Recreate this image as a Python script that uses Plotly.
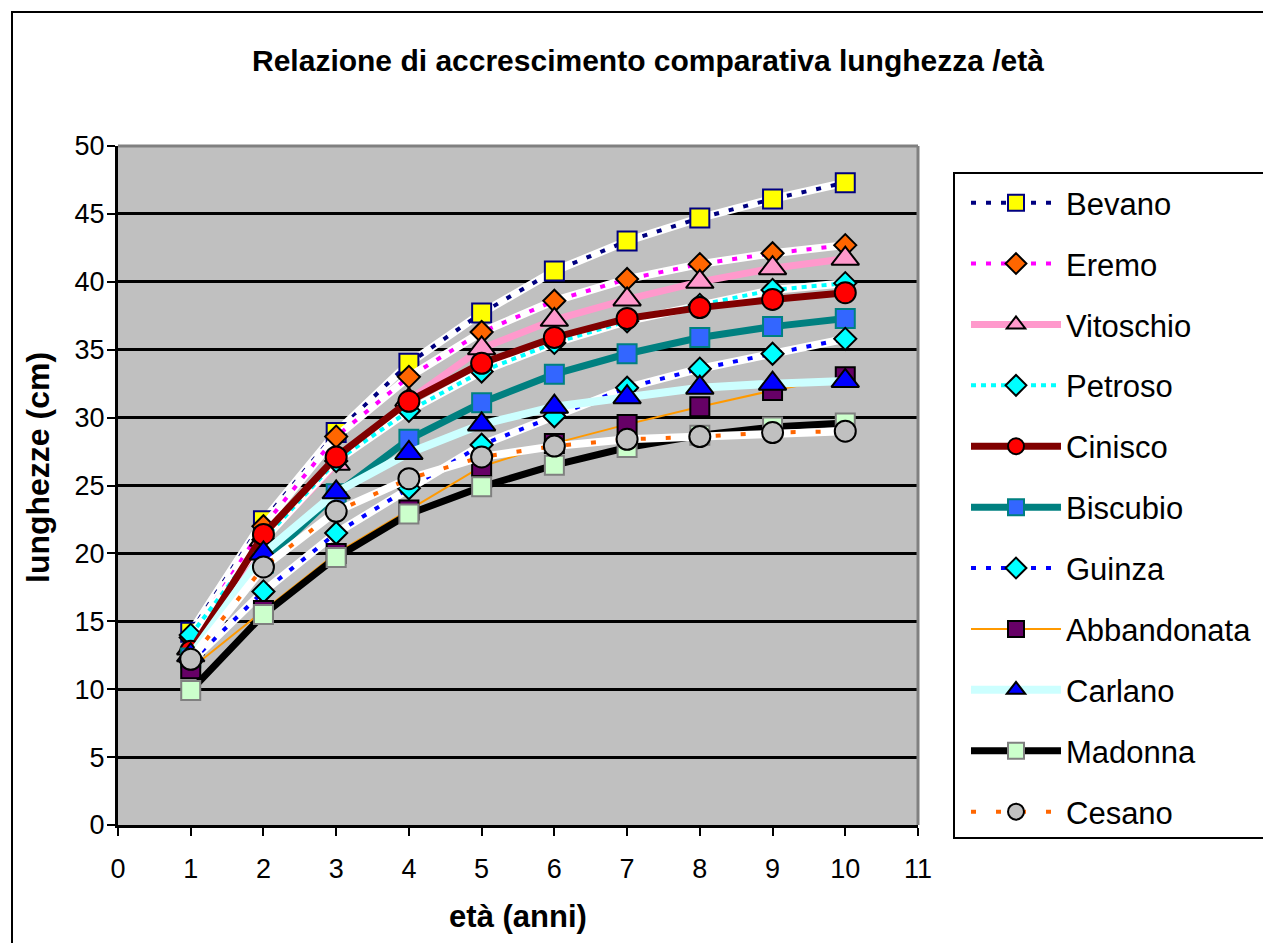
import plotly.graph_objects as go

ages = [1, 2, 3, 4, 5, 6, 7, 8, 9, 10]
bevano      = [14.2, 22.4, 28.9, 34.0, 37.7, 40.8, 43.0, 44.7, 46.1, 47.3]
eremo       = [13.8, 22.0, 28.6, 33.0, 36.3, 38.6, 40.2, 41.3, 42.1, 42.7]
vitoschio   = [13.0, 21.0, 26.6, 31.3, 35.1, 37.2, 38.7, 40.0, 41.0, 41.7]
petroso     = [14.0, 21.0, 26.8, 30.5, 33.4, 35.5, 37.1, 38.3, 39.4, 39.9]
cinisco     = [12.8, 21.4, 27.1, 31.2, 34.0, 35.9, 37.3, 38.1, 38.7, 39.2]
biscubio    = [12.3, 19.3, 24.4, 28.4, 31.1, 33.2, 34.7, 35.9, 36.7, 37.3]
guinza      = [12.0, 17.2, 21.5, 24.8, 28.0, 30.1, 32.2, 33.6, 34.7, 35.8]
abbandonata = [11.5, 15.8, 20.0, 23.2, 26.4, 28.1, 29.5, 30.8, 32.0, 33.0]
carlano     = [12.5, 20.0, 24.5, 27.4, 29.5, 30.8, 31.5, 32.2, 32.5, 32.7]
madonna     = [9.9, 15.5, 19.7, 22.9, 24.9, 26.5, 27.8, 28.7, 29.3, 29.6]
cesano      = [12.2, 19.0, 23.1, 25.5, 27.1, 27.9, 28.4, 28.6, 28.9, 29.0]

x_ticks = list(range(0, 12))
y_ticks = list(range(0, 55, 5))

FONT = "Liberation Sans, Arial, sans-serif"
OFF = 8                     # page body margin of the html page
W, H = 1271 - OFF, 943 - OFF
L, R, T, B = 118, 918, 146, 825   # plot area in screen pixels


def pxx(x):
    return (x - L) / (R - L)


def pyy(y):
    return (B - y) / (B - T)


styles = [
    dict(name="Bevano", y=bevano, color="#000080", width=4, dash="5px,10px", halo=True,
         symbol="square", size=19, fill="#FFFF00", mline="#000080"),
    dict(name="Eremo", y=eremo, color="#FF00FF", width=4, dash="5px,10px", halo=True,
         symbol="diamond", size=17, fill="#FF6600", mline="#000000"),
    dict(name="Vitoschio", y=vitoschio, color="#FF99CC", width=7, dash="solid", halo=False,
         symbol="triangle-up", size=24, fill="#FF99CC", mline="#000000"),
    dict(name="Petroso", y=petroso, color="#00FFFF", width=4, dash="5px,5px", halo=True,
         symbol="diamond", size=17, fill="#00FFFF", mline="#000000"),
    dict(name="Cinisco", y=cinisco, color="#800000", width=7, dash="solid", halo=False,
         symbol="circle", size=21, fill="#FF0000", mline="#000000"),
    dict(name="Biscubio", y=biscubio, color="#008080", width=7, dash="solid", halo=False,
         symbol="square", size=19, fill="#3366FF", mline="#008080"),
    dict(name="Guinza", y=guinza, color="#0000FF", width=4, dash="5px,10px", halo=True,
         symbol="diamond", size=17, fill="#00FFFF", mline="#000000"),
    dict(name="Abbandonata", y=abbandonata, color="#FF9900", width=2, dash="solid", halo=False,
         symbol="square", size=19, fill="#660066", mline="#000000"),
    dict(name="Carlano", y=carlano, color="#CCFFFF", width=8, dash="solid", halo=False,
         symbol="triangle-up", size=24, fill="#0000FF", mline="#000000"),
    dict(name="Madonna", y=madonna, color="#000000", width=7, dash="solid", halo=False,
         symbol="square", size=19, fill="#CCFFCC", mline="#808080"),
    dict(name="Cesano", y=cesano, color="#FF6600", width=4, dash="5px,20px", halo=True,
         symbol="circle", size=21, fill="#C0C0C0", mline="#000000"),
]

fig = go.Figure()
for s in styles:
    if s["halo"]:
        fig.add_trace(go.Scatter(
            x=ages, y=s["y"], mode="lines", line=dict(color="#FFFFFF", width=8),
            showlegend=False, legendgroup=s["name"], hoverinfo="skip"))
    fig.add_trace(go.Scatter(
        x=ages, y=s["y"], mode="lines+markers", name=s["name"], legendgroup=s["name"],
        line=dict(color=s["color"], width=s["width"], dash=s["dash"]),
        marker=dict(symbol=s["symbol"], size=s["size"], color=s["fill"],
                    line=dict(color=s["mline"], width=2)),
    ))

shapes = [
    # outer chart frame (top and left visible)
    dict(type="rect", xref="paper", yref="paper",
         x0=pxx(12), x1=pxx(1280), y0=pyy(955), y1=pyy(12),
         line=dict(color="#000000", width=2), fillcolor="rgba(0,0,0,0)", layer="below"),
    # plot area top/right gray border
    dict(type="line", xref="paper", yref="paper", x0=0, x1=1, y0=1, y1=1,
         line=dict(color="#808080", width=3), layer="above"),
    dict(type="line", xref="paper", yref="paper", x0=1, x1=1, y0=0, y1=1,
         line=dict(color="#808080", width=3), layer="above"),
    # legend box
    dict(type="rect", xref="paper", yref="paper",
         x0=pxx(954), x1=pxx(1268), y0=pyy(838), y1=pyy(173),
         line=dict(color="#000000", width=2), fillcolor="#FFFFFF", layer="below"),
]

annotations = [
    dict(text="<b>lunghezze (cm)</b>", xref="paper", yref="paper",
         x=pxx(38), y=pyy(468), xanchor="center", yanchor="middle", textangle=-90,
         showarrow=False, font=dict(family=FONT, size=32, color="#000000")),
]

fig.update_layout(
    width=W, height=H,
    margin=dict(l=L - OFF, r=1271 - R, t=T - OFF, b=943 - B),
    paper_bgcolor="#FFFFFF",
    plot_bgcolor="#C0C0C0",
    font=dict(family=FONT, size=27, color="#000000"),
    title=dict(text="Relazione di accrescimento comparativa lunghezza /età",
               font=dict(family=FONT, size=30, weight="bold"),
               x=(648 - OFF) / W, xref="container", xanchor="center",
               y=1 - (60 - OFF) / H, yref="container", yanchor="middle"),
    showlegend=True,
    legend=dict(x=pxx(966), xanchor="left", y=pyy(176), yanchor="top",
                bgcolor="rgba(0,0,0,0)", borderwidth=0,
                font=dict(family=FONT, size=31),
                itemwidth=90, tracegroupgap=17.6, traceorder="grouped"),
    shapes=shapes,
    annotations=annotations,
)

fig.update_xaxes(
    range=[0, 11], tickmode="array", tickvals=x_ticks, ticktext=[str(v) for v in x_ticks],
    showgrid=False, zeroline=False, showline=True, linecolor="#000000", linewidth=3,
    ticks="outside", ticklen=8, tickwidth=2, tickcolor="#000000",
    ticklabelstandoff=10,
    title=dict(text="età (anni)", font=dict(family=FONT, size=31, weight="bold"), standoff=22),
)
fig.update_yaxes(
    range=[0, 50], tickmode="array", tickvals=y_ticks, ticktext=[str(v) for v in y_ticks],
    showgrid=True, gridcolor="#000000", gridwidth=2.5, zeroline=False,
    showline=True, linecolor="#000000", linewidth=3,
    ticks="outside", ticklen=8, tickwidth=2, tickcolor="#000000",
    ticklabelstandoff=-3,
)

fig.write_html("out.html")
